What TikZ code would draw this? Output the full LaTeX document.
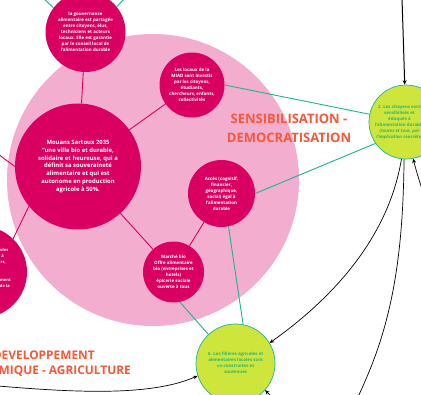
\documentclass[tikz,border=0pt]{standalone}
\usepackage{fontspec}
\setmainfont{Open Sans}
\usetikzlibrary{arrows.meta}
\definecolor{bigpink}{HTML}{F3AECF}
\definecolor{magen}{HTML}{D90062}
\definecolor{limeg}{HTML}{CEE63C}
\definecolor{tealc}{HTML}{1DB394}
\definecolor{greent}{HTML}{2DB56A}
\definecolor{redor}{HTML}{F4593A}
\tikzset{
  x=1pt,y=-1pt,
  disc/.style={circle,fill=magen,text=white,inner sep=0pt,align=center,font=\fontsize{4.45}{6.05}\bfseries\selectfont},
  limedisc/.style={circle,fill=limeg,draw=tealc,line width=.7pt,inner sep=0pt},
  limetext/.style={text=greent,align=center,inner sep=0pt,font=\fontsize{4.4}{6.05}\bfseries\selectfont},
  frag/.style={text=white,anchor=east,inner sep=0pt,font=\fontsize{4.1}{6}\bfseries\selectfont},
  heading/.style={text=redor,inner sep=0pt,font=\fontsize{13}{19}\bfseries\selectfont,align=center},
  sideheading/.style={text=redor,inner sep=0pt,anchor=east,font=\fontsize{11.9}{16}\bfseries\selectfont},
  pinkline/.style={draw=magen,line width=.9pt},
  tealline/.style={draw=tealc,line width=.9pt},
  arrowline/.style={draw=black,line width=.7pt,-{Stealth[length=4.5pt,width=4pt]}},
  plainarc/.style={draw=black,line width=.7pt}
}
\begin{document}
\begin{tikzpicture}
\useasboundingbox (0,0) rectangle (421,395);
\clip (0,0) rectangle (421,395);
\fill[white] (0,0) rectangle (421,395);
\node[circle,fill=bigpink,minimum size=292pt,inner sep=0pt] (big) at (153,180) {};
\node[disc,minimum size=126pt,font=\fontsize{5.9}{7.85}\bfseries\selectfont] (main) at (78,166.5) {Mouans Sartoux 2035\\ “une ville bio et durable,\\ solidaire et heureuse, qui a\\ définit sa souveraineté\\ alimentaire et qui est\\ autonome en production\\ agricole à 50\%.};
\node[disc,minimum size=80pt] (top) at (85.5,32) {la gouvernance\\ alimentaire est partagée\\ entre citoyens, élus,\\ techniciens et acteurs\\ locaux.  Elle est garantie\\ par le conseil local de\\ l'alimentation durable};
\node[disc,minimum size=65pt] (loc) at (192,85) {Les locaux de la\\ MIAD sont investis\\ par les citoyens,\\ étudiants,\\ chercheurs, enfants,\\ collectivités};
\node[disc,minimum size=67pt] (acc) at (221.5,193.5) {Accès (cognitif,\\ financier,\\ géographique,\\ social) égal à\\ l'alimentation\\ durable};
\node[disc,minimum size=61pt] (mar) at (173.5,272) {Marché bio\\ Offre alimentaire\\ bio (entreprises et\\ hotels)\\ épicerie sociale\\ ouverte à tous};
\node[disc,minimum size=92pt] (lef) at (-19,272) {};
\node[frag] (f1) at (8.5,250) {oles};
\node[frag] (f2) at (4,256.3) {à};
\node[frag] (f3) at (6,262.5) {rs,};
\node[frag] (f4) at (11,280.3) {ment};
\node[frag] (f5) at (10,286.2) {de la};
\node[limedisc,minimum size=74pt] (gr) at (406,122) {};
\node[limetext] (grt) at (399.5,122) {2. Les citoyens sont\\ sensibilisés et\\ éduqués à\\ l'alimentation durable\\ \itshape (toutes et tous, par\\ \itshape l'implication concrète)};
\node[limedisc,minimum size=79pt] (gb) at (235.5,363.5) {};
\node[limetext] (gbt) at (235.7,363) {6. Les filières agricoles et\\ alimentaires locales sont\\ co-construites et\\ soutenues};
\node[heading] (h1) at (289,128.5) {SENSIBILISATION -\\ DEMOCRATISATION};
\node[sideheading] (h2) at (95,355) {DEVELOPPEMENT};
\node[sideheading] (h3) at (131,370.7) {MIQUE - AGRICULTURE};
\coordinate (tl) at (43,-2);
\coordinate (tr) at (125,-2);
\coordinate (ll) at (-2,154);
\coordinate (a1s) at (402,-2);
\coordinate (a3e) at (357,399);
\coordinate (a4s) at (423,192);
\coordinate (a5s) at (-2,386);
\coordinate (a6s) at (274,399);
\draw[pinkline] (top) -- (main);
\draw[pinkline] (main) -- (loc);
\draw[pinkline] (main) -- (mar);
\draw[pinkline] (acc) -- (mar);
\draw[pinkline] (main.219) -- (lef.46);
\draw[pinkline] (main.west) -- (ll);
\draw[tealline] (tl) -- (top.143);
\draw[tealline] (tr) -- (top.39);
\draw[tealline] (loc.0) -- (gr.168);
\draw[tealline] (acc.0) -- (gr.215);
\draw[tealline] (acc.-78) -- (gb.79);
\draw[tealline] (mar.-78) -- (gb.133);
\draw[arrowline,line width=1pt] (a1s) .. controls (403,30) and (404,60) .. (gr.92);
\draw[arrowline] (gr.-97) .. controls (388,240) and (330,300) .. (gb.31);
\draw[plainarc] (gr.-93) .. controls (403,280) and (385,340) .. (a3e);
\draw[arrowline] (a4s) .. controls (419,180) and (416,170) .. (gr.-79);
\draw[arrowline] (a5s) .. controls (70,392) and (150,397) .. (gb.198);
\draw[arrowline] (a6s) -- (gb.-42.5);
\end{tikzpicture}
\end{document}
